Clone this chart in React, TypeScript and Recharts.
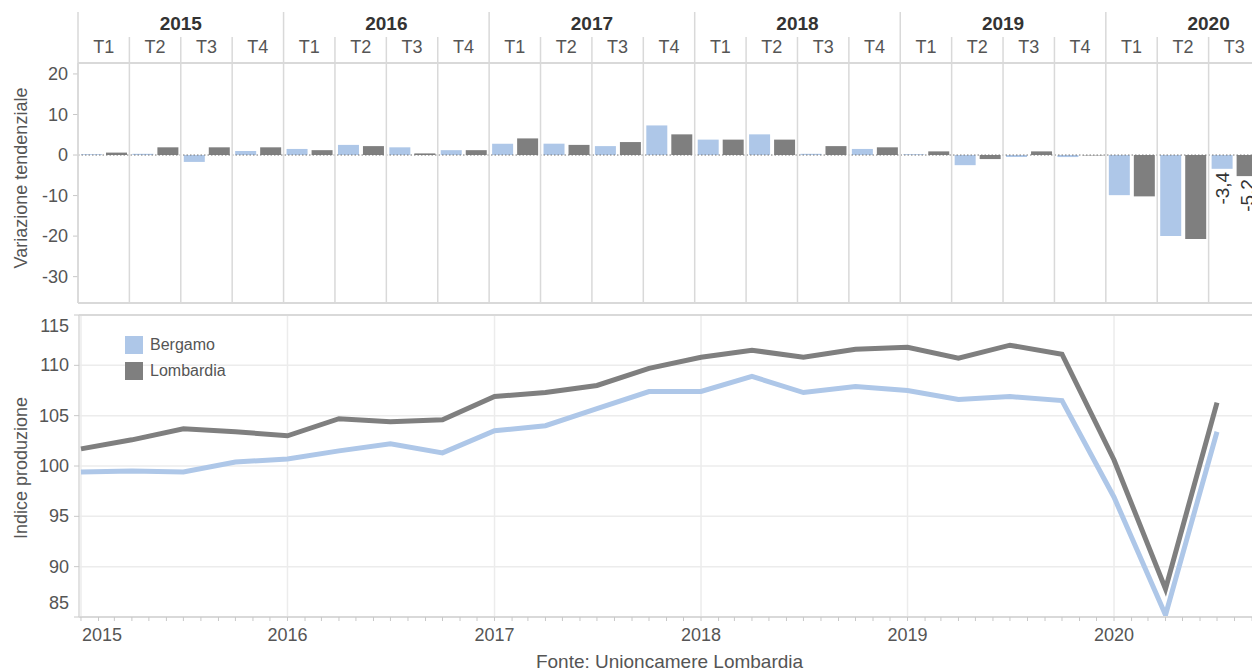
import React from "react";
import {
  BarChart,
  Bar,
  LineChart,
  Line,
  XAxis,
  YAxis,
  CartesianGrid,
  ReferenceLine,
  LabelList,
} from "recharts";

// quarters shown in both panels
const periods = [
  "2015 T1", "2015 T2", "2015 T3", "2015 T4",
  "2016 T1", "2016 T2", "2016 T3", "2016 T4",
  "2017 T1", "2017 T2", "2017 T3", "2017 T4",
  "2018 T1", "2018 T2", "2018 T3", "2018 T4",
  "2019 T1", "2019 T2", "2019 T3", "2019 T4",
  "2020 T1", "2020 T2", "2020 T3",
];

// variazione tendenziale (%)
const varBergamo = [0.2, 0.3, -1.7, 1.0, 1.5, 2.5, 1.9, 1.2, 2.8, 2.8, 2.2, 7.3, 3.8, 5.1, 0.3, 1.5, 0.2, -2.5, -0.5, -0.5, -9.9, -20.0, -3.4];
const varLombardia = [0.6, 1.9, 1.9, 1.9, 1.2, 2.2, 0.4, 1.2, 4.1, 2.5, 3.2, 5.1, 3.8, 3.8, 2.2, 1.9, 0.9, -1.0, 0.9, -0.1, -10.2, -20.7, -5.2];

// indice produzione
const idxBergamo = [99.4, 99.5, 99.4, 100.4, 100.7, 101.5, 102.2, 101.3, 103.5, 104.0, 105.7, 107.4, 107.4, 108.9, 107.3, 107.9, 107.5, 106.6, 106.9, 106.5, 96.9, 85.2, 103.4];
const idxLombardia = [101.7, 102.6, 103.7, 103.4, 103.0, 104.7, 104.4, 104.6, 106.9, 107.3, 108.0, 109.7, 110.8, 111.5, 110.8, 111.6, 111.8, 110.7, 112.0, 111.1, 100.6, 87.8, 106.3];

const varTicks = [20, 10, 0, -10, -20, -30];
const idxTicks = [85, 90, 95, 100, 105, 110, 115];
const yearTicks = [2015, 2016, 2017, 2018, 2019, 2020];
const legendItems = ["Bergamo", "Lombardia"];

const BLUE = "#aec7e8";
const GREY = "#7f7f7f";
const TEXT = "#555";
const LINE = "#d9d9d9";
const FONT = "Arial, 'Liberation Sans', sans-serif";

const CHART_W = 1262;
const LEFT = 78;
const RIGHT_M = 2;
const COL_W = (CHART_W - LEFT - RIGHT_M) / periods.length;
const HEAD_H = 63;
const TOP_PLOT_BOTTOM = 303;
const BOT_TOP = 303;
const BOT_H = 368;
const BOT_X_AXIS_H = 54;
const BOT_PLOT_BOTTOM = BOT_H - BOT_X_AXIS_H;

const toTime = (p: string) => {
  const [y, q] = p.split(" T");
  return Date.UTC(Number(y), (Number(q) - 1) * 3, 1);
};

const varData = periods.map((p, i) => ({ period: p, bergamo: varBergamo[i], lombardia: varLombardia[i] }));
const idxData = periods.map((p, i) => ({ t: toTime(p), bergamo: idxBergamo[i], lombardia: idxLombardia[i] }));

const timeDomain = [Date.UTC(2014, 11, 28, 12), Date.UTC(2020, 8, 15)];
const monthTicks: number[] = [];
for (let y = 2015; y <= 2020; y++) {
  for (let m = 0; m < 12; m++) {
    const t = Date.UTC(y, m, 1);
    if (t <= timeDomain[1]) monthTicks.push(t);
  }
}

function HeaderTick(props: any) {
  const { x, payload } = props;
  const [year, q] = String(payload.value).split(" ");
  const left = x - COL_W / 2;
  const first = q === "T1";
  return (
    <g>
      <line x1={left} x2={left} y1={first ? 12 : 37} y2={TOP_PLOT_BOTTOM} stroke={LINE} strokeWidth={1.5} />
      <text x={x} y={47} textAnchor="middle" dominantBaseline="central" fontSize={18} fill={TEXT}>
        {q}
      </text>
      {first && (
        <text x={left + 2 * COL_W} y={23} textAnchor="middle" dominantBaseline="central" fontSize={19} fontWeight="bold" fill="#333">
          {year}
        </text>
      )}
    </g>
  );
}

const lastIdx = periods.length - 1;
function EndLabel(props: any) {
  const { x, y, width, height, value, index } = props;
  if (index !== lastIdx) return null;
  const cx = Number(x) + Number(width) / 2;
  const bottom = Math.max(Number(y), Number(y) + Number(height)) + 3;
  return (
    <text
      transform={`translate(${cx},${bottom}) rotate(-90)`}
      textAnchor="end"
      dominantBaseline="central"
      fontSize={19}
      fill="#333"
    >
      {Number(value).toFixed(1).replace(".", ",")}
    </text>
  );
}

function IdxTick(props: any) {
  const { x, y, payload } = props;
  const v = payload.value;
  const dy = v === 115 ? 11 : v === 85 ? -14 : 0;
  return (
    <text x={x} y={y + dy} textAnchor="end" dominantBaseline="central" fontSize={18} fill={TEXT}>
      {v}
    </text>
  );
}

function TimeTick(props: any) {
  const { x, payload } = props;
  const d = new Date(payload.value);
  const year = d.getUTCFullYear();
  const showLabel = d.getUTCMonth() === 0 && yearTicks.includes(year);
  const first = year === yearTicks[0];
  return (
    <g>
      <line x1={x} x2={x} y1={BOT_PLOT_BOTTOM} y2={BOT_PLOT_BOTTOM + 4} stroke="#c8c8c8" />
      {showLabel && (
        <text
          x={first ? x + 1 : x}
          y={BOT_PLOT_BOTTOM + 18}
          textAnchor={first ? "start" : "middle"}
          dominantBaseline="central"
          fontSize={18}
          fill={TEXT}
        >
          {year}
        </text>
      )}
    </g>
  );
}

function AxisTitle({ cx, cy, text }: { cx: number; cy: number; text: string }) {
  return (
    <text transform={`translate(${cx},${cy}) rotate(-90)`} textAnchor="middle" dominantBaseline="central" fontSize={18} fill={TEXT}>
      {text}
    </text>
  );
}

function LegendBox() {
  const colors = [BLUE, GREY];
  return (
    <div style={{ position: "absolute", left: 125, top: 332 }}>
      {legendItems.map((name, i) => (
        <div key={name} style={{ display: "flex", alignItems: "center", height: 26 }}>
          <span style={{ width: 18, height: 18, background: colors[i], display: "inline-block", marginRight: 7 }} />
          <span style={{ fontSize: 16, color: TEXT }}>{name}</span>
        </div>
      ))}
    </div>
  );
}

export default function App() {
  return (
    <div style={{ position: "absolute", left: 0, top: 0, width: 1252, height: 671, overflow: "hidden", background: "#fff", fontFamily: FONT }}>
      <div style={{ position: "absolute", left: 0, top: 0 }}>
        <BarChart
          width={CHART_W}
          height={TOP_PLOT_BOTTOM + 1}
          data={varData}
          margin={{ top: 0, right: RIGHT_M, bottom: 1, left: 0 }}
          barSize={21}
          barGap={4}
        >
          <XAxis
            dataKey="period"
            orientation="top"
            height={HEAD_H}
            interval={0}
            tickLine={false}
            axisLine={{ stroke: LINE, strokeWidth: 2 }}
            tick={<HeaderTick />}
          />
          <YAxis
            width={LEFT}
            domain={[-36.5, 22.7]}
            ticks={varTicks}
            allowDataOverflow
            axisLine={{ stroke: LINE, strokeWidth: 1.5 }}
            tickLine={{ stroke: "#c8c8c8" }}
            tickSize={5}
            tickMargin={5}
            tick={{ fontSize: 18, fill: TEXT }}
            label={() => <AxisTitle cx={21} cy={178} text="Variazione tendenziale" />}
          />
          <ReferenceLine y={-36.5} stroke={LINE} strokeWidth={2} />
          <ReferenceLine y={0} stroke="#777" strokeDasharray="1.5 2" />
          <Bar dataKey="bergamo" fill={BLUE} isAnimationActive={false}>
            <LabelList dataKey="bergamo" content={<EndLabel />} />
          </Bar>
          <Bar dataKey="lombardia" fill={GREY} isAnimationActive={false}>
            <LabelList dataKey="lombardia" content={<EndLabel />} />
          </Bar>
        </BarChart>
      </div>

      <div style={{ position: "absolute", left: 0, top: BOT_TOP }}>
        <LineChart
          width={CHART_W}
          height={BOT_H}
          data={idxData}
          margin={{ top: 12, right: RIGHT_M, bottom: 0, left: 0 }}
        >
          <CartesianGrid
            stroke="#ececec"
            strokeWidth={1.5}
            horizontalValues={[90, 95, 100, 105, 110]}
            verticalValues={yearTicks.map((y) => Date.UTC(y, 0, 1))}
          />
          <XAxis
            dataKey="t"
            type="number"
            domain={timeDomain}
            allowDataOverflow
            ticks={monthTicks}
            interval={0}
            height={BOT_X_AXIS_H}
            tickLine={false}
            axisLine={{ stroke: LINE, strokeWidth: 2 }}
            tick={<TimeTick />}
            label={{ value: "Fonte: Unioncamere Lombardia", position: "insideBottom", offset: 3, fill: TEXT, fontSize: 19 }}
          />
          <YAxis
            width={LEFT + 1}
            domain={[85, 115]}
            ticks={idxTicks}
            allowDataOverflow
            axisLine={{ stroke: LINE, strokeWidth: 1.5 }}
            tickLine={{ stroke: "#c8c8c8" }}
            tickSize={5}
            tickMargin={5}
            tick={<IdxTick />}
            label={() => <AxisTitle cx={21} cy={165} text="Indice produzione" />}
          />
          <ReferenceLine y={115} stroke={LINE} strokeWidth={2} />
          <Line dataKey="lombardia" stroke={GREY} strokeWidth={5} dot={false} isAnimationActive={false} />
          <Line dataKey="bergamo" stroke={BLUE} strokeWidth={5} dot={false} isAnimationActive={false} />
        </LineChart>
      </div>
      <LegendBox />
    </div>
  );
}
